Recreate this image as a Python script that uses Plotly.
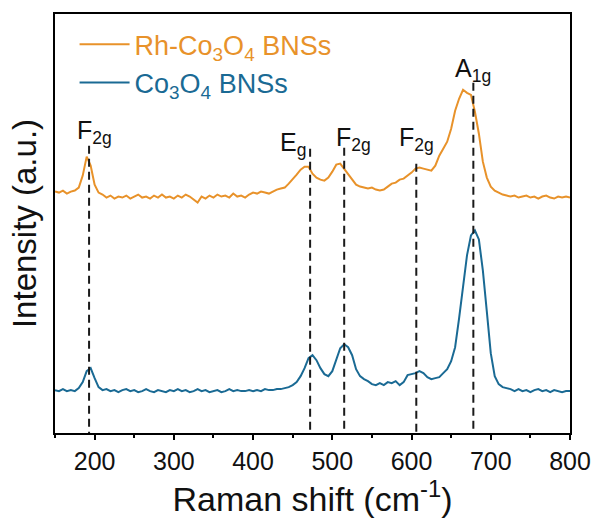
import plotly.graph_objects as go

# Raman shift axis (cm^-1)
shift = list(range(150, 805, 5))

# Rh-Co3O4 BNSs spectrum (offset, arbitrary units)
rh_co3o4 = [
    242, 241, 243, 240, 242, 243, 246, 258, 277, 268,
    249, 241, 239, 236, 238, 235, 237, 236, 238, 235,
    237, 239, 236, 237, 235, 238, 236, 239, 236, 237,
    235, 238, 236, 239, 237, 234, 231, 237, 235, 238,
    236, 239, 237, 238, 236, 240, 237, 238, 236, 239,
    241, 240, 242, 241, 240, 242, 244, 245, 246, 250,
    254, 259, 264, 267, 267, 260, 256, 254, 253, 256,
    262, 269, 270, 265, 259, 254, 249, 247, 246, 245,
    246, 244, 243, 244, 247, 250, 251, 254, 255, 258,
    261, 265, 266, 265, 264, 263, 268, 278, 285, 292,
    305, 323, 335, 344, 341, 339, 322, 300, 272, 256,
    247, 243, 241, 239, 238, 237, 238, 236, 237, 238,
    236, 237, 235, 237, 238, 236, 235, 237, 236, 237,
    236,
]

# Co3O4 BNSs spectrum (arbitrary units)
co3o4 = [
    43, 42, 44, 42, 43, 42, 45, 51, 62, 65,
    55, 46, 43, 44, 42, 43, 41, 43, 44, 42,
    43, 41, 42, 44, 42, 41, 43, 42, 41, 43,
    42, 44, 42, 43, 41, 42, 44, 42, 43, 41,
    42, 43, 41, 42, 44, 42, 43, 42, 42, 43,
    42, 43, 42, 44, 43, 43, 44, 44, 45, 46,
    48, 51, 57, 65, 75, 78, 73, 65, 59, 57,
    62, 73, 85, 89, 86, 78, 64, 57, 54, 52,
    49, 48, 50, 48, 51, 50, 52, 48, 51, 58,
    59, 60, 62, 60, 56, 54, 55, 56, 60, 64,
    72, 86, 115, 148, 178, 198, 203, 194, 163, 122,
    80, 57, 49, 46, 45, 44, 42, 44, 42, 43,
    41, 43, 44, 42, 43, 41, 43, 42, 41, 42,
    42,
]

# Raman-active modes of spinel Co3O4
mode_pos = [193, 472, 515, 606, 678]
mode_top = [288, 285, 286, 270, 351]
mode_names = ["F<sub>2g</sub>", "E<sub>g</sub>", "F<sub>2g</sub>", "F<sub>2g</sub>", "A<sub>1g</sub>"]

x_ticks = [200, 300, 400, 500, 600, 700, 800]

ORANGE = "#E8922A"
BLUE = "#1A6A94"
FONT = "Liberation Sans, Arial, sans-serif"

fig = go.Figure()
fig.add_trace(go.Scatter(
    x=shift, y=rh_co3o4, mode="lines",
    line=dict(color=ORANGE, width=2),
    name=f"<span style='color:{ORANGE}'>Rh-Co<sub>3</sub>O<sub>4</sub> BNSs</span>",
    legendgroup="a",
))
fig.add_trace(go.Scatter(
    x=shift, y=co3o4, mode="lines",
    line=dict(color=BLUE, width=2),
    name=f"<span style='color:{BLUE}'>Co<sub>3</sub>O<sub>4</sub> BNSs</span>",
    legendgroup="b",
))

# dashed guide lines marking each mode
for xp, top in zip(mode_pos, mode_top):
    fig.add_shape(type="line", xref="x", yref="y",
                  x0=xp, x1=xp, y0=top, y1=0,
                  line=dict(color="#1a1a1a", width=2, dash="8px,5px"), layer="above")

# mode labels
label_x = [200, 451, 527, 606, 677]
label_y = [302, 290, 295, 295, 364]
for lx, ly, txt in zip(label_x, label_y, mode_names):
    fig.add_annotation(x=lx, y=ly, xref="x", yref="y", text=txt, showarrow=False,
                       xanchor="center", yanchor="middle",
                       font=dict(size=25, color="#111111", family=FONT))

fig.update_layout(
    width=603, height=520,
    margin=dict(l=55, r=27, t=13, b=87),
    plot_bgcolor="white", paper_bgcolor="white",
    font=dict(family=FONT, color="#111111"),
    showlegend=True,
    legend=dict(x=0.038, y=0.985, xanchor="left", yanchor="top",
                font=dict(size=27, family=FONT), itemwidth=50,
                bgcolor="rgba(0,0,0,0)", tracegroupgap=0),
)
fig.update_xaxes(
    range=[150, 800], tickvals=x_ticks, ticks="outside", ticklen=5, tickwidth=1.5,
    tickcolor="black", showline=True, linecolor="black", linewidth=2, mirror=True,
    showgrid=False, zeroline=False,
    minor=dict(ticks="outside", ticklen=3, tickwidth=1.5, tickcolor="black", dtick=50, tick0=150),
    tickfont=dict(size=25, family=FONT, color="#111111"),
    title=dict(text="Raman shift (cm<sup>-1</sup>)", font=dict(size=34, family=FONT, color="#111111"), standoff=6),
)
fig.update_yaxes(
    range=[0, 420], showticklabels=False, ticks="",
    showline=True, linecolor="black", linewidth=2, mirror=True,
    showgrid=False, zeroline=False,
    title=dict(text="Intensity (a.u.)", font=dict(size=33, family=FONT, color="#111111"), standoff=6),
)

fig.write_html("out.html")
